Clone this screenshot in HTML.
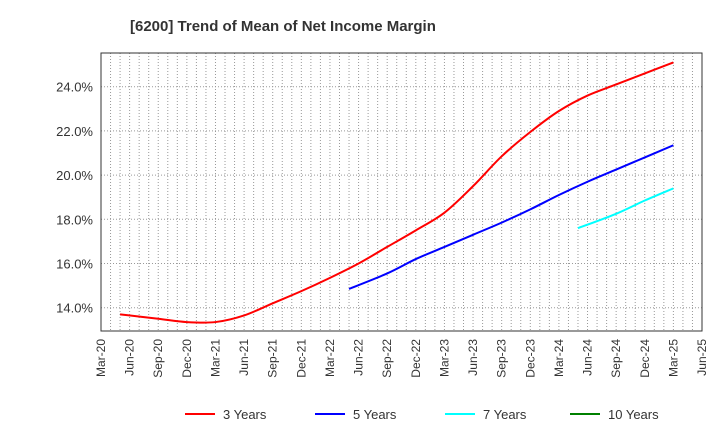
<!DOCTYPE html>
<html><head><meta charset="utf-8"><style>
body{margin:0;background:#fff;font-family:"Liberation Sans",sans-serif;}
</style></head><body>
<svg id="c" width="720" height="440" xmlns="http://www.w3.org/2000/svg" font-family="Liberation Sans, sans-serif">
<text x="130" y="31" font-size="15" font-weight="bold" fill="#333">[6200]  Trend of Mean of Net Income Margin</text>
<g id="grid"></g><g id="axes"></g><g id="series"></g><g id="legend"></g>
</svg>
<script>
const xLabels=["Mar-20","Jun-20","Sep-20","Dec-20","Mar-21","Jun-21","Sep-21","Dec-21","Mar-22","Jun-22","Sep-22","Dec-22","Mar-23","Jun-23","Sep-23","Dec-23","Mar-24","Jun-24","Sep-24","Dec-24","Mar-25","Jun-25"];
const yTicks=[14,16,18,20,22,24];
// months since Mar-20 for each point
const m3=[2,6,9,12,15,18,21,24,27,30,33,36,39,42,45,48,51,54,57,60];
const s3=[13.7,13.5,13.35,13.35,13.65,14.2,14.75,15.35,16.0,16.75,17.5,18.3,19.5,20.85,21.95,22.9,23.6,24.1,24.6,25.1];
const m5=[26,30,33,36,39,42,45,48,51,54,57,60];
const s5=[14.85,15.55,16.2,16.75,17.3,17.85,18.45,19.1,19.7,20.25,20.8,21.35];
const m7=[50,54,57,60];
const s7=[17.6,18.25,18.85,19.4];
const m10=[];
const s10=[];
const seriesNames=["3 Years","5 Years","7 Years","10 Years"];
const colors=["#ff0000","#0000ff","#00ffff","#008000"];
const L=101,R=702,T=53,B=331;
const NM=(xLabels.length-1)*3;
const XM=m=>L+(R-L)*m/NM;
const X=q=>XM(q*3);
const Y=v=>86.7+(24-v)*22.1;
const NS="http://www.w3.org/2000/svg";
function mk(tag,attrs,parent){const e=document.createElementNS(NS,tag);for(const k in attrs)e.setAttribute(k,attrs[k]);parent.appendChild(e);return e;}
const g=document.getElementById('grid'),ax=document.getElementById('axes'),sg=document.getElementById('series'),lg=document.getElementById('legend');
for(let m=1;m<NM;m++){const x=XM(m);
const l=mk('line',{x1:x,x2:x,y1:T,y2:B,stroke:'#999','stroke-width':1,'stroke-dasharray':'1,2'},g);

}
yTicks.forEach(v=>{const l=mk('line',{x1:L,x2:R,y1:Y(v),y2:Y(v),stroke:'#999','stroke-width':1,'stroke-dasharray':'1,2'},g);


const t=mk('text',{x:L-8,y:Y(v)+5,'text-anchor':'end','font-size':13,fill:'#333'},ax);t.textContent=v.toFixed(1)+'%';

});
xLabels.forEach((s,i)=>{const x=X(i);const t=mk('text',{x:x+4,y:B+8,'text-anchor':'end','font-size':12,fill:'#333',transform:`rotate(-90 ${x+4} ${B+8})`},ax);t.textContent=s;

});
const fr=mk('rect',{x:L,y:T,width:R-L,height:B-T,fill:'none',stroke:'#333','stroke-width':1},ax);


function smooth(p){if(p.length<2)return '';let d='M'+p[0][0]+','+p[0][1];
for(let i=0;i<p.length-1;i++){const p0=p[i-1]||p[i],p1=p[i],p2=p[i+1],p3=p[i+2]||p2;
const c1=[p1[0]+(p2[0]-p0[0])/6,p1[1]+(p2[1]-p0[1])/6],c2=[p2[0]-(p3[0]-p1[0])/6,p2[1]-(p3[1]-p1[1])/6];
d+=' C'+c1.join(',')+' '+c2.join(',')+' '+p2.join(',');}return d;}
[[m3,s3],[m5,s5],[m7,s7],[m10,s10]].forEach(([ms,arr],k)=>{const pts=arr.map((v,i)=>[XM(ms[i]),Y(v)]);
if(pts.length<2)return;
const p=mk('path',{d:smooth(pts),fill:'none',stroke:colors[k],'stroke-width':2,'stroke-linejoin':'round'},sg);

});
const lx=[185,315,445,570];
seriesNames.forEach((n,k)=>{const l=mk('line',{x1:lx[k],x2:lx[k]+30,y1:414,y2:414,stroke:colors[k],'stroke-width':2},lg);


const t=mk('text',{x:lx[k]+38,y:419,'font-size':13,fill:'#333'},lg);t.textContent=n;

});
</script>
</body></html>
